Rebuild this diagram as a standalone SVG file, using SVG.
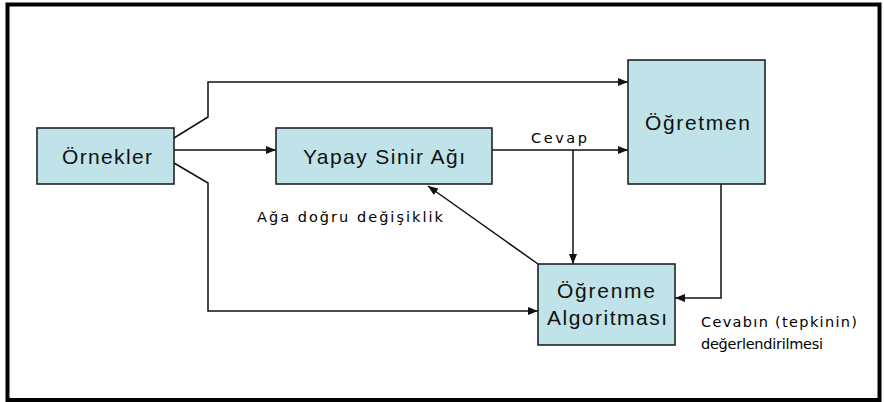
<svg xmlns="http://www.w3.org/2000/svg" width="884" height="402" viewBox="0 0 884 402">
  <style>
    .box { fill: #bfe3e8; stroke: #222; stroke-width: 1.6; }
    .lbl { font-family: "Liberation Sans", Arial, sans-serif; font-size: 21px; fill: #111; }
    .note { font-family: "DejaVu Sans", Verdana, sans-serif; font-size: 14.5px; fill: #000; }
    .wire { fill: none; stroke: #111; stroke-width: 1.5; }
  </style>
  <defs>
    <marker id="arrow" markerUnits="userSpaceOnUse" markerWidth="11" markerHeight="9" refX="10" refY="4" orient="auto">
      <path d="M0,0 L10,4 L0,8 z" fill="#111"/>
    </marker>
  </defs>

  <rect x="0" y="0" width="884" height="402" fill="#fff"/>
  <!-- outer frame -->
  <rect x="7.5" y="4.5" width="872" height="395.5" fill="none" stroke="#000" stroke-width="4"/>

  <!-- connectors -->
  <g id="connectors" class="wire">
    <path d="M174,150 H276" marker-end="url(#arrow)"/>
    <path d="M174,138 L208,117 V82 H628" marker-end="url(#arrow)"/>
    <path d="M174,163 L208,183 V311 H538" marker-end="url(#arrow)"/>
    <path d="M492,150 H628" marker-end="url(#arrow)"/>
    <path d="M573,150 V264" marker-end="url(#arrow)"/>
    <path d="M538,264 L428,186" marker-end="url(#arrow)"/>
    <path d="M721,184 V298 H675" marker-end="url(#arrow)"/>
  </g>

  <!-- nodes -->
  <g id="ornekler">
    <rect class="box" x="37" y="128" width="137" height="56"/>
    <text class="lbl" x="62" y="164" textLength="90" lengthAdjust="spacing">Örnekler</text>
  </g>
  <g id="yapay-sinir-agi">
    <rect class="box" x="276" y="128" width="216" height="56"/>
    <text class="lbl" x="303" y="164" textLength="162" lengthAdjust="spacing">Yapay Sinir Ağı</text>
  </g>
  <g id="ogretmen">
    <rect class="box" x="628" y="60" width="137" height="124"/>
    <text class="lbl" x="645" y="130" textLength="105" lengthAdjust="spacing">Öğretmen</text>
  </g>
  <g id="ogrenme-algoritmasi">
    <rect class="box" x="538" y="264" width="137" height="81"/>
    <text class="lbl" x="557" y="298" textLength="98" lengthAdjust="spacing">Öğrenme</text>
    <text class="lbl" x="547" y="325" textLength="120" lengthAdjust="spacing">Algoritması</text>
  </g>

  <!-- edge labels -->
  <g id="labels">
    <text class="note" x="531" y="142.5" textLength="56" lengthAdjust="spacing">Cevap</text>
    <text class="note" x="257" y="222" textLength="186" lengthAdjust="spacing">Ağa doğru değişiklik</text>
    <text class="note" x="701" y="327" textLength="156" lengthAdjust="spacing">Cevabın (tepkinin)</text>
    <text class="note" x="701" y="349" textLength="122" lengthAdjust="spacing">değerlendirilmesi</text>
  </g>
</svg>
